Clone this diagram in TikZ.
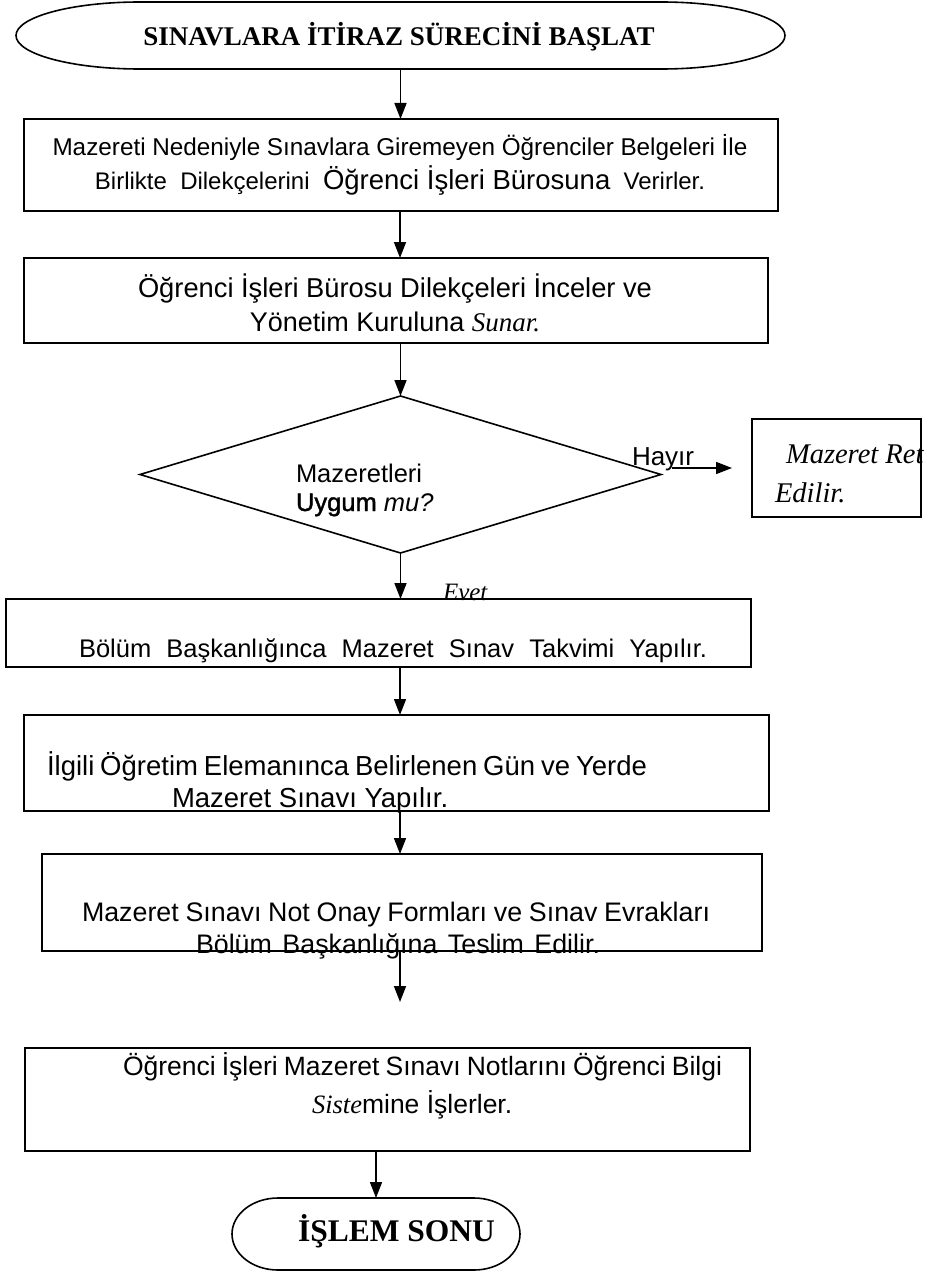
\documentclass[tikz,border=0pt]{standalone}
\usepackage{fontspec}
\setmainfont{Liberation Sans}
\newfontfamily\tnr{Liberation Serif}
\newfontfamily\heavysans[FakeBold=1.6]{Liberation Sans}
\usetikzlibrary{arrows.meta,shapes.geometric}
\newcommand\fsz[1]{\fontsize{#1}{#1}\selectfont}
\begin{document}
\begin{tikzpicture}[x=1pt,y=-1pt,
  line/.style={line width=1.6pt},
  box/.style={line, draw, rectangle, inner sep=0pt, outer sep=0pt},
  hold/.style={rectangle, inner sep=0pt, outer sep=0pt},
  txt/.style={inner sep=0pt, outer sep=0pt},
  arr/.style={line width=1.6pt, -{Triangle[length=16pt,width=12pt]}}]
\useasboundingbox (0,0) rectangle (948,1271);

% flow axis
\coordinate (axis) at (400,0);

% start terminator
\node[hold, minimum width=769pt, minimum height=67pt] (start) at (400.5,35.5) {};
\draw[line] ([xshift=124pt]start.north west) -- ([xshift=-124pt]start.north east)
  arc[start angle=90, end angle=-90, x radius=124pt, y radius=33.5pt]
  -- ([xshift=124pt]start.south west)
  arc[start angle=270, end angle=90, x radius=124pt, y radius=33.5pt] -- cycle;
\node[txt, anchor=base] (tstart) at (399,46)
  {\tnr\bfseries\fsz{27}SINAVLARA İTİRAZ SÜRECİNİ BAŞLAT};

% process boxes
\node[box, minimum width=754pt, minimum height=92pt] (b1) at (401,165) {};
\node[box, minimum width=744pt, minimum height=85pt] (b2) at (396,300.5) {};
\node[line, draw, diamond, minimum width=521pt, minimum height=157pt, inner sep=0pt, outer sep=0pt] (dia) at (400.5,474.5) {};
\node[box, minimum width=169pt, minimum height=98pt] (rej) at (836.5,468) {};
\node[box, minimum width=745pt, minimum height=68pt] (b3) at (378.5,633) {};
\node[box, minimum width=745pt, minimum height=96pt] (b4) at (396.5,763) {};
\node[box, minimum width=720pt, minimum height=97pt] (b5) at (402,902.5) {};
\node[box, minimum width=725pt, minimum height=103pt] (b6) at (387.5,1099.5) {};

% end terminator
\node[hold, minimum width=288pt, minimum height=72pt] (endt) at (376,1234) {};
\draw[line] ([xshift=46pt]endt.north west) -- ([xshift=-46pt]endt.north east)
  arc[start angle=90, end angle=-90, x radius=46pt, y radius=36pt]
  -- ([xshift=46pt]endt.south west)
  arc[start angle=270, end angle=90, x radius=46pt, y radius=36pt] -- cycle;
\node[txt, anchor=base west] (tend) at (298,1241) {\tnr\bfseries\fsz{31.5}İŞLEM SONU};

% texts
\node[txt, anchor=base] (t1a) at (400,155)
  {\fsz{24.3}\makebox[695pt][s]{Mazereti Nedeniyle Sınavlara Giremeyen Öğrenciler Belgeleri İle}};
\node[txt, anchor=base] (t1b) at (400,189)
  {\fsz{24}Birlikte\ \ Dilekçelerini\ \ {\fsz{27.5}Öğrenci İşleri Bürosuna}\ \ Verirler.};
\node[txt, anchor=base] (t2a) at (395,297)
  {\fsz{27.3}\makebox[514pt][s]{Öğrenci İşleri Bürosu Dilekçeleri İnceler ve}};
\node[txt, anchor=base] (t2b) at (395,331)
  {\fsz{27}Yönetim Kuruluna {\tnr\itshape Sunar.}};
\node[txt, anchor=base west] (td1) at (296,482) {\fsz{25.5}Mazeretleri};
\node[txt, anchor=base west] (td2) at (296,511)
  {\fsz{25.5}{\heavysans Uygum} {\itshape mu?}};
\node[txt, anchor=base west] (thayir) at (632,465) {\fsz{26}Hayır};
\node[txt, anchor=base west] (tr1) at (786,463) {\tnr\itshape\fsz{28.5}Mazeret Ret};
\node[txt, anchor=base west] (tr2) at (775,502) {\tnr\itshape\fsz{28.5}Edilir.};
\node[txt, anchor=base west] (tevet) at (443,600) {\tnr\itshape\fsz{25}Evet};
\node[txt, anchor=base] (t3) at (393,657)
  {\fsz{25.5}\makebox[628pt][s]{Bölüm Başkanlığınca Mazeret Sınav Takvimi Yapılır.}};
\node[txt, anchor=base west] (t4a) at (47,775)
  {\fsz{27.5}\makebox[600pt][s]{İlgili Öğretim Elemanınca Belirlenen Gün ve Yerde}};
\node[txt, anchor=base west] (t4b) at (172,807) {\fsz{27.5}Mazeret Sınavı Yapılır.};
\node[txt, anchor=base] (t5a) at (396,921)
  {\fsz{26.8}\makebox[628pt][s]{Mazeret Sınavı Not Onay Formları ve Sınav Evrakları}};
\node[txt, anchor=base west] (t5b) at (196,953)
  {\fsz{26.8}\makebox[404pt][s]{Bölüm Başkanlığına Teslim Edilir.}};
\node[txt, anchor=base west] (t6a) at (123,1075)
  {\fsz{26.5}\makebox[599pt][s]{Öğrenci İşleri Mazeret Sınavı Notlarını Öğrenci Bilgi}};
\node[txt, anchor=base west] (t6b) at (312,1113)
  {\fsz{26.5}{\tnr\itshape Siste}mine İşlerler.};

% connectors
\coordinate (hy) at (672,468);
\coordinate (gap) at (400,1002);
\draw[arr] (start.south) -- (start.south |- b1.north);
\draw[arr] (axis |- b1.south) -- (axis |- b2.north);
\draw[arr] (dia.north |- b2.south) -- (dia.north);
\draw[arr] (hy) -- ([xshift=-20pt]rej.west);
\draw[arr] (dia.south) -- (dia.south |- b3.north);
\draw[arr] (axis |- b3.south) -- (axis |- b4.north);
\draw[arr] (axis |- b4.south) -- (axis |- b5.north);
\draw[arr] (axis |- b5.south) -- (gap);
\draw[arr] (endt.north |- b6.south) -- (endt.north);
\end{tikzpicture}
\end{document}
